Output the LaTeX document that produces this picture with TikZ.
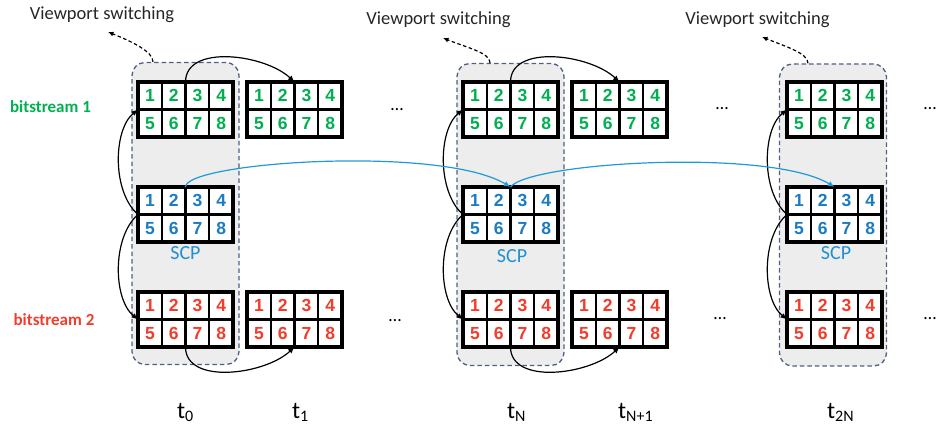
\documentclass[tikz,border=0pt]{standalone}
\usepackage{fontspec}
\setmainfont{Carlito}
\newfontfamily\digitfont{Liberation Sans}
\usetikzlibrary{arrows.meta,calc}

\definecolor{bsgreen}{HTML}{00B050}
\definecolor{bsred}{HTML}{F23D2C}
\definecolor{bsblue}{HTML}{1B7CC2}
\definecolor{scpblue}{HTML}{2090D2}
\definecolor{linkblue}{HTML}{1E9AD9}
\definecolor{grpfill}{HTML}{EDEDED}
\definecolor{grpedge}{HTML}{4F5F86}

\tikzset{
  gridbox/.style={draw=black, line width=3.2pt, fill=white, minimum width=95pt,
    minimum height=55pt, inner sep=0pt, outer sep=0pt},
  gridline/.style={line width=2.4pt, black},
  cellnum/.style={font=\digitfont\bfseries\fontsize{17.5}{17.5}\selectfont, inner sep=0pt},
  group/.style={draw=grpedge, fill=grpfill, dash pattern=on 4.5pt off 3pt, line width=1.3pt,
    rounded corners=13pt, minimum width=107pt, minimum height=302pt, inner sep=0pt},
  frame arrow/.style={-{Latex[length=6.5pt,width=5.5pt]}, line width=1.2pt, black},
  scp arrow/.style={-{Latex[length=6.5pt,width=5.5pt]}, line width=1.2pt, linkblue},
  switch arrow/.style={-{Latex[length=5.5pt,width=5pt]}, line width=1.2pt, black,
    dash pattern=on 3.5pt off 2.5pt},
  vplabel/.style={font=\fontsize{18.5}{18.5}\selectfont, text=black!85, anchor=base, inner sep=0pt},
  scplabel/.style={font=\fontsize{20}{20}\selectfont, text=scpblue, anchor=base, inner sep=0pt},
  streamlabel/.style={font=\bfseries\fontsize{17}{17}\selectfont, anchor=base, inner sep=0pt},
  tlabel/.style={font=\fontsize{24}{24}\selectfont, anchor=base west, inner sep=0pt},
  dotlabel/.style={font=\fontsize{18}{18}\selectfont, anchor=base, inner sep=0pt}
}

% a 2x4 frame of numbered tiles: name, centre, digit colour
\newcommand{\cellgrid}[3]{%
  \node[gridbox] (#1) at (#2) {};
  \foreach \c in {1,2,3}
    \draw[gridline] ($(#1.south west)+(\c*23.75,0)$) -- ($(#1.north west)+(\c*23.75,0)$);
  \draw[gridline] (#1.west) -- (#1.east);
  \foreach \n in {1,...,8}{
    \pgfmathtruncatemacro{\col}{mod(\n-1,4)}
    \pgfmathtruncatemacro{\row}{(\n-1)/4}
    \node[cellnum, text=#3] (#1-\n) at ($(#1.north west)+(11.875+\col*23.75,-13.75-\row*27.5)$) {\n};
  }
  \draw[line width=3.2pt] (#1.south west) rectangle (#1.north east);
}

\newcommand{\tstamp}[1]{t\raisebox{-3pt}{\fontsize{16}{16}\selectfont #1}}

\begin{document}
\begin{tikzpicture}[x=1pt,y=1pt]
\useasboundingbox (0,0) rectangle (937,430);

% switching groups
\node[group] (box0)  at (185.5,216.5) {};
\node[group] (boxN)  at (510.5,215.5) {};
\node[group] (box2N) at (833,215) {};

% bitstream 1 frames
\cellgrid{g0}{185.5,320.5}{bsgreen}
\cellgrid{g1}{294.5,320.5}{bsgreen}
\cellgrid{gN}{510.5,320.5}{bsgreen}
\cellgrid{gN1}{619.5,320.5}{bsgreen}
\cellgrid{g2N}{834.5,320.5}{bsgreen}
% SCP frames
\cellgrid{s0}{185.5,215.5}{bsblue}
\cellgrid{sN}{510.5,215.5}{bsblue}
\cellgrid{s2N}{834.5,215.5}{bsblue}
% bitstream 2 frames
\cellgrid{r0}{185.5,110.5}{bsred}
\cellgrid{r1}{294.5,110.5}{bsred}
\cellgrid{rN}{510.5,110.5}{bsred}
\cellgrid{rN1}{619.5,110.5}{bsred}
\cellgrid{r2N}{834.5,110.5}{bsred}

% labels
\node[streamlabel, text=bsgreen] (bs1) at (50.5,317) {bitstream 1};
\node[streamlabel, text=bsred] (bs2) at (54,104.3) {bitstream 2};
\node[scplabel] (scp0)  at (185.5,170) {SCP};
\node[scplabel] (scpN)  at (512,167) {SCP};
\node[scplabel] (scp2N) at (836,170) {SCP};

\node[dotlabel] (dg1) at (397,319) {…};
\node[dotlabel] (dr1) at (395,108.5) {…};
\node[dotlabel] (dg2) at (722,320) {…};
\node[dotlabel] (dr2) at (720,110.5) {…};
\node[dotlabel] (dg3) at (930,320) {…};
\node[dotlabel] (dr3) at (930,110.5) {…};

\node[tlabel] (t0)  at (177,11) {\tstamp{0}};
\node[tlabel] (t1)  at (292,11) {\tstamp{1}};
\node[tlabel] (tN)  at (507,11) {\tstamp{N}};
\node[tlabel] (tN1) at (618,11) {\tstamp{N+1}};
\node[tlabel] (t2N) at (827,11) {\tstamp{2N}};

% viewport switching
\node[vplabel] (vp0)  at (102,410) {Viewport switching};
\node[vplabel] (vpN)  at (438.5,405) {Viewport switching};
\node[vplabel] (vp2N) at (757.5,405) {Viewport switching};
\coordinate (vt0)  at (108,398);
\coordinate (vtN)  at (443,392);
\coordinate (vt2N) at (762,393);
\draw[switch arrow] ([xshift=-32.5pt]box0.north) .. controls +(0,10) and +(25,-10) .. (vt0);
\draw[switch arrow] ([xshift=-20.5pt]boxN.north) .. controls +(0,10) and +(25,-10) .. (vtN);
\draw[switch arrow] ([xshift=-25pt]box2N.north) .. controls +(0,10) and +(25,-10) .. (vt2N);

% frame-to-frame prediction
\draw[frame arrow] (g0.north) .. controls +(0,38) and +(-30,28) .. (g1.north);
\draw[frame arrow] (gN.north) .. controls +(0,38) and +(-30,28) .. (gN1.north);
\draw[frame arrow] (r0.south) .. controls +(0,-38) and +(-30,-28) .. (r1.south);
\draw[frame arrow] (rN.south) .. controls +(0,-38) and +(-30,-28) .. (rN1.south);

% SCP to both bitstreams
\foreach \k in {0,N,2N}{
  \draw[frame arrow] (s\k.west) .. controls +(-26,22.5) and +(-25,-20.5) .. (g\k.west);
  \draw[frame arrow] (s\k.west) .. controls +(-26,-22.5) and +(-25,20.5) .. (r\k.west);
}

% SCP chain
\draw[scp arrow] (s0.north) .. controls +(0,25) and +(-70.5,42) .. (sN.north);
\draw[scp arrow] (sN.north) .. controls +(19.5,25) and +(-64.5,39) .. (s2N.north);
\end{tikzpicture}
\end{document}
